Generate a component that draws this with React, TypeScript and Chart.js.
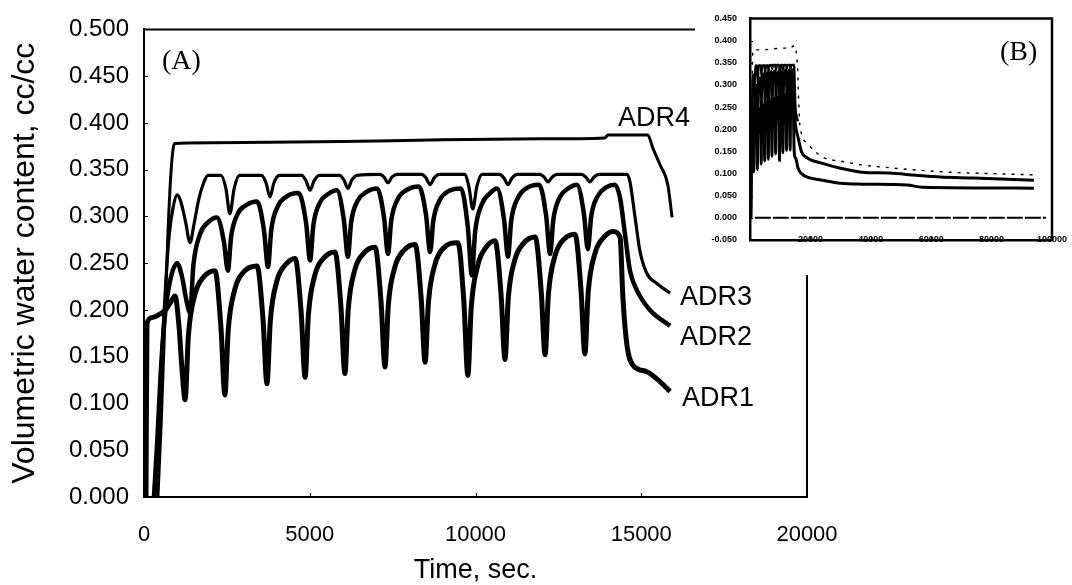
import React, { useEffect, useRef } from 'react';
import { Chart, registerables } from 'chart.js';

Chart.register(...registerables);

// ---- axis ticks ----
const X_TICKS_MAIN = [0, 5000, 10000, 15000, 20000];
const Y_TICKS_MAIN = [0, 0.05, 0.1, 0.15, 0.2, 0.25, 0.3, 0.35, 0.4, 0.45, 0.5];
const X_TICKS_INSET = [0, 20000, 40000, 60000, 80000, 100000];
const Y_TICKS_INSET = [-0.05, 0, 0.05, 0.1, 0.15, 0.2, 0.25, 0.3, 0.35, 0.4, 0.45];

// ---- measured series: [time (s), volumetric water content (cc/cc)] ----
const adr1: [number, number][] = [
  [60, 0], [90, 0.186], [250, 0.192], [500, 0.196], [650, 0.2], [800, 0.208], [935, 0.215], [1050, 0.185], [1150, 0.135], [1240, 0.104],
  [1340, 0.173], [1540, 0.217], [1790, 0.235], [2140, 0.242], [2320, 0.182],
  [2440, 0.109], [2540, 0.178], [2740, 0.222], [2990, 0.24], [3410, 0.247], [3590, 0.19],
  [3710, 0.121], [3810, 0.188], [4010, 0.231], [4260, 0.248], [4560, 0.255], [4740, 0.198],
  [4860, 0.128], [4960, 0.195], [5160, 0.238], [5410, 0.255], [5760, 0.262], [5940, 0.204],
  [6060, 0.132], [6160, 0.2], [6360, 0.243], [6610, 0.26], [6970, 0.267], [7150, 0.209],
  [7270, 0.139], [7370, 0.205], [7570, 0.246], [7820, 0.263], [8180, 0.27], [8360, 0.213],
  [8480, 0.144], [8580, 0.208], [8780, 0.249], [9030, 0.266], [9470, 0.272], [9650, 0.208],
  [9770, 0.13], [9870, 0.202], [10070, 0.248], [10320, 0.267], [10590, 0.274], [10770, 0.217],
  [10890, 0.147], [10990, 0.213], [11190, 0.254], [11440, 0.271], [11800, 0.278], [11980, 0.221],
  [12100, 0.152], [12200, 0.217], [12400, 0.258], [12650, 0.275], [13000, 0.281], [13180, 0.223],
  [13300, 0.153], [13400, 0.219], [13600, 0.26], [13850, 0.277], [14150, 0.284], [14360, 0.278],
  [14450, 0.211], [14570, 0.162], [14750, 0.141], [15170, 0.134], [15480, 0.126], [15870, 0.113],
];

const adr2: [number, number][] = [
  [300, 0], [400, 0.06], [500, 0.13], [620, 0.19], [780, 0.23], [1000, 0.25], [1150, 0.235], [1280, 0.21], [1390, 0.197],
  [1490, 0.248], [1690, 0.281], [1940, 0.294], [2200, 0.299], [2410, 0.273],
  [2530, 0.242], [2630, 0.279], [2830, 0.303], [3080, 0.312], [3410, 0.316], [3620, 0.285],
  [3740, 0.246], [3840, 0.286], [4040, 0.311], [4290, 0.321], [4660, 0.325], [4890, 0.293],
  [5010, 0.253], [5110, 0.291], [5310, 0.315], [5560, 0.324], [5820, 0.328], [6030, 0.296],
  [6150, 0.257], [6250, 0.294], [6450, 0.317], [6700, 0.326], [7030, 0.33], [7240, 0.299],
  [7360, 0.26], [7460, 0.296], [7660, 0.319], [7910, 0.328], [8290, 0.332], [8510, 0.301],
  [8630, 0.262], [8730, 0.296], [8930, 0.318], [9180, 0.327], [9560, 0.33], [9770, 0.288],
  [9890, 0.237], [9990, 0.284], [10190, 0.313], [10440, 0.325], [10650, 0.33], [10860, 0.297],
  [10980, 0.257], [11080, 0.296], [11280, 0.32], [11530, 0.33], [11920, 0.334], [12130, 0.301],
  [12250, 0.26], [12350, 0.297], [12550, 0.321], [12800, 0.33], [13060, 0.334], [13270, 0.303],
  [13390, 0.265], [13490, 0.3], [13690, 0.322], [13940, 0.331], [14200, 0.334], [14360, 0.32],
  [14510, 0.281], [14660, 0.242], [14870, 0.221], [15260, 0.2], [15870, 0.183],
];

const adr3: [number, number][] = [
  [330, 0], [430, 0.07], [530, 0.15], [640, 0.22], [760, 0.28], [880, 0.31], [1000, 0.323], [1100, 0.317], [1250, 0.295], [1390, 0.272],
  [1500, 0.29], [1650, 0.318], [1800, 0.336], [1930, 0.344],
  [2320, 0.344], [2470, 0.33], [2590, 0.303], [2720, 0.33], [2880, 0.344],
  [3550, 0.344], [3680, 0.336], [3800, 0.321], [3920, 0.336], [4080, 0.344],
  [4760, 0.344], [4890, 0.338], [5010, 0.328], [5130, 0.338], [5290, 0.344],
  [5900, 0.344], [6030, 0.339], [6150, 0.33], [6270, 0.339], [6430, 0.344],
  [7110, 0.345], [7240, 0.342], [7360, 0.336], [7480, 0.342], [7640, 0.345],
  [8380, 0.345], [8510, 0.341], [8630, 0.334], [8750, 0.341], [8910, 0.345],
  [9670, 0.345], [9800, 0.332], [9920, 0.308], [10040, 0.332], [10200, 0.345],
  [10730, 0.345], [10860, 0.341], [10980, 0.334], [11100, 0.341], [11260, 0.345],
  [11940, 0.345], [12070, 0.342], [12190, 0.337], [12310, 0.342], [12470, 0.345],
  [13200, 0.345], [13330, 0.342], [13450, 0.337], [13570, 0.342], [13730, 0.345],
  [14570, 0.345], [14660, 0.337], [14810, 0.3], [14960, 0.263], [15170, 0.239], [15480, 0.228], [15870, 0.218],
];

const adr4: [number, number][] = [
  [420, 0], [520, 0.08], [620, 0.18], [720, 0.28], [820, 0.35], [920, 0.378],
  [3000, 0.379], [6000, 0.38], [9000, 0.382], [12000, 0.383], [13900, 0.384], [14000, 0.387], [15200, 0.387],
  [15350, 0.373], [15570, 0.355], [15800, 0.334], [15930, 0.299],
];

// long-term drainage, shown only in the overview (B)
const adr1Tail: [number, number][] = [
  [17000, 0.1], [19000, 0.092], [24000, 0.085], [30000, 0.078], [37000, 0.076], [52000, 0.074], [57000, 0.069], [94000, 0.067],
];
const adr2Tail: [number, number][] = [
  [17000, 0.15], [19000, 0.135], [24000, 0.123], [30000, 0.112], [37000, 0.103], [46000, 0.101], [55000, 0.096], [63000, 0.092], [74000, 0.09], [94000, 0.085],
];
const adr4Tail: [number, number][] = [
  [16200, 0.25], [16500, 0.21], [19000, 0.168], [24000, 0.137], [30000, 0.128], [37500, 0.119], [43000, 0.115], [66000, 0.103], [79000, 0.1], [94000, 0.097],
];
const baseline: [number, number][] = [[1600, 0], [98000, 0]];

// ---- text annotations anchored in data units ----
const MAIN_NOTES = [
  { text: '(A)', t: 543, v: 0.466, serif: true },
  { text: 'ADR4', t: 14300, v: 0.405, serif: false },
  { text: 'ADR3', t: 16170, v: 0.213, serif: false },
  { text: 'ADR2', t: 16170, v: 0.171, serif: false },
  { text: 'ADR1', t: 16230, v: 0.105, serif: false },
];
const INSET_NOTES = [{ text: '(B)', t: 82780, v: 0.373, serif: true }];

const SANS = "'Liberation Sans', Arial, Helvetica, sans-serif";
const SERIF = "'Liberation Serif', 'Times New Roman', serif";

const xy = (pts: [number, number][]) => pts.map(([x, y]) => ({ x, y }));

const line = (pts: [number, number][], width: number, dash: number[] = []) => ({
  data: xy(pts),
  borderColor: '#000',
  borderWidth: width,
  borderDash: dash,
  pointRadius: 0,
  fill: false,
  cubicInterpolationMode: 'monotone' as const,
});

type Note = { text: string; t: number; v: number; serif: boolean };

function makeOverlay(notes: Note[], size: number, tick: number, lw: number, xLabels?: number[]) {
  return {
    id: 'overlay',
    afterDatasetsDraw(chart: any) {
      const { ctx, chartArea: a, scales } = chart;
      ctx.save();
      ctx.strokeStyle = '#000';
      ctx.lineWidth = lw;
      ctx.beginPath();
      ctx.moveTo(a.left, a.top);
      ctx.lineTo(a.right, a.top);
      ctx.lineTo(a.right, a.bottom);
      ctx.stroke();
      ctx.lineWidth = 1;
      ctx.beginPath();
      scales.y.ticks.forEach((t: any) => {
        const y = Math.round(scales.y.getPixelForValue(t.value)) + 0.5;
        ctx.moveTo(a.left, y);
        ctx.lineTo(a.left + tick, y);
      });
      scales.x.ticks.forEach((t: any) => {
        const x = Math.round(scales.x.getPixelForValue(t.value)) + 0.5;
        ctx.moveTo(x, a.bottom);
        ctx.lineTo(x, a.bottom - tick);
      });
      ctx.stroke();
      ctx.fillStyle = '#000';
      ctx.textBaseline = 'middle';
      ctx.textAlign = 'left';
      notes.forEach((n) => {
        ctx.font = `${n.serif ? size + 1 : size}px ${n.serif ? SERIF : SANS}`;
        ctx.fillText(n.text, scales.x.getPixelForValue(n.t), scales.y.getPixelForValue(n.v));
      });
      // small time labels sitting on the lower frame of the overview
      if (xLabels) {
        ctx.font = `bold 9px ${SANS}`;
        ctx.textAlign = 'center';
        xLabels.forEach((v) => {
          if (v === 0) return;
          ctx.fillText(String(v), scales.x.getPixelForValue(v), a.bottom);
        });
      }
      ctx.restore();
    },
  };
}

export default function App() {
  const mainRef = useRef<HTMLCanvasElement>(null);
  const insetRef = useRef<HTMLCanvasElement>(null);

  useEffect(() => {
    const main = new Chart(mainRef.current as HTMLCanvasElement, {
      type: 'line',
      data: {
        datasets: [line(adr4, 3), line(adr3, 3.2), line(adr2, 4.5), line(adr1, 5)] as any,
      },
      options: {
        animation: false,
        responsive: false,
        layout: { padding: { left: 0, right: 265, top: 22, bottom: 0 } },
        plugins: { legend: { display: false }, tooltip: { enabled: false } },
        scales: {
          x: {
            type: 'linear',
            min: X_TICKS_MAIN[0],
            max: X_TICKS_MAIN[X_TICKS_MAIN.length - 1],
            afterBuildTicks: (s: any) => { s.ticks = X_TICKS_MAIN.map((value) => ({ value })); },
            afterFit: (s: any) => { s.height = 88; },
            ticks: {
              color: '#000',
              font: { family: SANS, size: 22 },
              padding: 25,
              maxRotation: 0,
              autoSkip: false,
              callback: (v: any) => String(v),
            },
            grid: { display: false, drawTicks: false },
            border: { display: true, color: '#000', width: 2 },
            title: {
              display: true,
              text: 'Time, sec.',
              color: '#000',
              font: { family: SANS, size: 27, lineHeight: 1 },
              padding: { top: 0, bottom: 1 },
            },
          },
          y: {
            type: 'linear',
            min: Y_TICKS_MAIN[0],
            max: Y_TICKS_MAIN[Y_TICKS_MAIN.length - 1],
            afterBuildTicks: (s: any) => { s.ticks = Y_TICKS_MAIN.map((value) => ({ value })); },
            afterFit: (s: any) => { s.width = 144; },
            ticks: {
              color: '#000',
              font: { family: SANS, size: 24 },
              padding: 15,
              autoSkip: false,
              callback: (v: any) => Number(v).toFixed(3),
            },
            grid: { display: false, drawTicks: false },
            border: { display: true, color: '#000', width: 2 },
            title: {
              display: true,
              text: 'Volumetric water content, cc/cc',
              color: '#000',
              font: { family: SANS, size: 32, lineHeight: 1.2 },
              padding: { top: 6, bottom: 0 },
            },
          },
        },
      },
      plugins: [makeOverlay(MAIN_NOTES, 27, 4, 2)],
    });

    const inset = new Chart(insetRef.current as HTMLCanvasElement, {
      type: 'line',
      data: {
        datasets: [
          line(baseline, 2, [16, 2]),
          line(adr4.concat(adr4Tail), 1.4, [3, 6]),
          line(adr3, 2.4),
          line(adr2.concat(adr2Tail), 3),
          line(adr1.concat(adr1Tail), 3),
        ] as any,
      },
      options: {
        animation: false,
        responsive: false,
        layout: { padding: { left: 0, right: 20, top: 18, bottom: 0 } },
        plugins: { legend: { display: false }, tooltip: { enabled: false } },
        scales: {
          x: {
            type: 'linear',
            min: X_TICKS_INSET[0],
            max: X_TICKS_INSET[X_TICKS_INSET.length - 1],
            afterBuildTicks: (s: any) => { s.ticks = X_TICKS_INSET.map((value) => ({ value })); },
            afterFit: (s: any) => { s.height = 35; },
            ticks: { display: false },
            grid: { display: false, drawTicks: false },
            border: { display: true, color: '#000', width: 2.5 },
          },
          y: {
            type: 'linear',
            min: Y_TICKS_INSET[0],
            max: Y_TICKS_INSET[Y_TICKS_INSET.length - 1],
            afterBuildTicks: (s: any) => { s.ticks = Y_TICKS_INSET.map((value) => ({ value })); },
            afterFit: (s: any) => { s.width = 55; },
            ticks: {
              color: '#000',
              font: { family: SANS, size: 9, weight: 'bold' },
              padding: 13,
              autoSkip: false,
              callback: (v: any) => Number(v).toFixed(3),
            },
            grid: { display: false, drawTicks: false },
            border: { display: true, color: '#000', width: 2.5 },
          },
        },
      },
      plugins: [makeOverlay(INSET_NOTES, 27, 3, 2.5, X_TICKS_INSET)],
    });

    return () => {
      main.destroy();
      inset.destroy();
    };
  }, []);

  return (
    <div style={{ position: 'fixed', left: 0, top: 0, width: 1072, height: 585, background: '#fff' }}>
      <canvas ref={mainRef} width={1072} height={585} style={{ position: 'absolute', left: 0, top: 0, display: 'block' }} />
      <div style={{ position: 'absolute', left: 695, top: 0, width: 377, height: 275, background: '#fff' }}>
        <canvas ref={insetRef} width={377} height={275} style={{ display: 'block' }} />
      </div>
    </div>
  );
}
